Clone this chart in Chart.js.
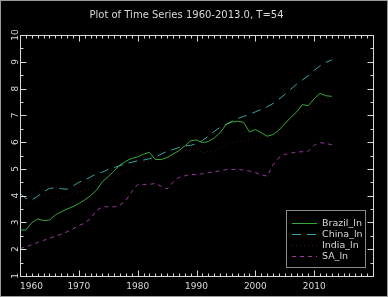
<!DOCTYPE html>
<html>
<head>
<meta charset="utf-8">
<script src="https://cdn.jsdelivr.net/npm/chart.js@4.4.1/dist/chart.umd.min.js"></script>
<style>
  html, body { margin: 0; padding: 0; background: #000; }
  canvas { display: block; }
</style>
</head>
<body>
<canvas id="myChart" width="388" height="297"></canvas>
<script>
// data (log scale values)
let years = [1960, 1961, 1962, 1963, 1964, 1965, 1966, 1967, 1968, 1969,
             1970, 1971, 1972, 1973, 1974, 1975, 1976, 1977, 1978, 1979,
             1980, 1981, 1982, 1983, 1984, 1985, 1986, 1987, 1988, 1989,
             1990, 1991, 1992, 1993, 1994, 1995, 1996, 1997, 1998, 1999,
             2000, 2001, 2002, 2003, 2004, 2005, 2006, 2007, 2008, 2009,
             2010, 2011, 2012, 2013];

let brazil = [2.72, 2.72, 2.99, 3.13, 3.07, 3.09, 3.28, 3.40, 3.50, 3.59,
              3.71, 3.84, 4.00, 4.21, 4.52, 4.71, 4.93, 5.14, 5.29, 5.39,
              5.45, 5.55, 5.62, 5.35, 5.35, 5.42, 5.55, 5.68, 5.85, 6.05,
              6.08, 5.98, 6.02, 6.15, 6.35, 6.65, 6.75, 6.78, 6.74, 6.38,
              6.47, 6.35, 6.22, 6.28, 6.45, 6.68, 6.92, 7.12, 7.40, 7.36,
              7.62, 7.82, 7.73, 7.71];

let china = [4.09, 3.90, 3.84, 3.98, 4.14, 4.27, 4.30, 4.26, 4.24, 4.36,
             4.50, 4.58, 4.70, 4.82, 4.88, 4.98, 5.05, 5.12, 5.20, 5.25,
             5.30, 5.33, 5.38, 5.45, 5.55, 5.66, 5.72, 5.80, 5.85, 5.88,
             5.94, 6.06, 6.22, 6.40, 6.55, 6.66, 6.78, 6.88, 6.96, 7.04,
             7.13, 7.22, 7.32, 7.44, 7.60, 7.78, 7.97, 8.16, 8.32, 8.48,
             8.68, 8.85, 8.98, 9.07];

let india = [3.61, 3.67, 3.74, 3.88, 4.03, 4.09, 3.83, 3.91, 3.97, 4.07,
             4.13, 4.21, 4.27, 4.45, 4.60, 4.59, 4.63, 4.80, 4.92, 5.03,
             5.23, 5.27, 5.30, 5.39, 5.36, 5.45, 5.52, 5.63, 5.69, 5.69,
             5.77, 5.60, 5.66, 5.63, 5.79, 5.89, 5.97, 6.03, 6.04, 6.13,
             6.15, 6.18, 6.24, 6.41, 6.56, 6.71, 6.85, 7.10, 7.09, 7.20,
             7.42, 7.51, 7.51, 7.53];

let sa = [2.03, 2.08, 2.17, 2.25, 2.33, 2.41, 2.48, 2.56, 2.65, 2.76,
          2.88, 2.98, 3.15, 3.45, 3.58, 3.59, 3.58, 3.65, 3.82, 4.15,
          4.42, 4.42, 4.42, 4.46, 4.35, 4.25, 4.50, 4.68, 4.74, 4.80,
          4.78, 4.82, 4.86, 4.89, 4.93, 4.97, 4.98, 4.98, 4.96, 4.92,
          4.86, 4.78, 4.73, 5.15, 5.42, 5.54, 5.58, 5.63, 5.64, 5.66,
          5.88, 5.98, 5.95, 5.90];

let seriesNames = ['Brazil_ln', 'China_ln', 'India_ln', 'SA_ln'];
let xTicks = [1960, 1970, 1980, 1990, 2000, 2010, 2020];
let yTicks = [1, 2, 3, 4, 5, 6, 7, 8, 9, 10];

const fg = '#d8d8d8';

function pts(vals)
{
    return years.map((yr, i) => ({ x: yr, y: vals[i] }));
}

// IDL style box with inward ticks on all four sides
const boxTicks = {
    id: 'boxTicks',
    afterDraw(chart)
    {
        let ctx = chart.ctx;
        let a = chart.chartArea;
        let xs = chart.scales.x;
        let ys = chart.scales.y;
        ctx.save();
        ctx.strokeStyle = '#9a9a9a';
        ctx.lineWidth = 1;
        ctx.strokeRect(0.5, 0.5, chart.width - 1, chart.height - 1);

        ctx.strokeStyle = fg;
        let l = Math.round(a.left) + 0.5, r = Math.round(a.right) + 0.5;
        let t = Math.round(a.top) + 0.5, b = Math.round(a.bottom) + 0.5;
        ctx.strokeRect(l, t, r - l, b - t);

        ctx.beginPath();
        for (let yr = xs.min; yr <= xs.max; yr++)
        {
            let px = Math.round(xs.getPixelForValue(yr)) + 0.5;
            let len = xTicks.includes(yr) ? 6 : 3;
            ctx.moveTo(px, b); ctx.lineTo(px, b - len);
            ctx.moveTo(px, t); ctx.lineTo(px, t + len);
        }
        for (let v = ys.min; v <= ys.max; v += 0.5)
        {
            let py = Math.round(ys.getPixelForValue(v)) + 0.5;
            let len = Number.isInteger(v) ? 6 : 3;
            ctx.moveTo(l, py); ctx.lineTo(l + len, py);
            ctx.moveTo(r, py); ctx.lineTo(r - len, py);
        }
        ctx.stroke();
        ctx.restore();
    }
};

// legend box in the lower right corner of the plot
const boxLegend = {
    id: 'boxLegend',
    afterDraw(chart)
    {
        let ctx = chart.ctx;
        let a = chart.chartArea;
        let bx = a.right - 87, by = a.bottom - 66, bw = 79, bh = 57;
        ctx.save();
        ctx.strokeStyle = '#8a8a8a';
        ctx.lineWidth = 1;
        ctx.strokeRect(Math.round(bx) + 0.5, Math.round(by) + 0.5, bw, bh);
        ctx.font = '9.5px "DejaVu Sans"';
        ctx.textBaseline = 'middle';
        ctx.fillStyle = fg;
        chart.data.datasets.forEach((ds, i) => {
            let y = Math.round(by + 12.5 + i * 11) + 0.5;
            ctx.beginPath();
            ctx.strokeStyle = ds.borderColor;
            ctx.setLineDash(ds.borderDash || []);
            ctx.moveTo(bx + 6, y);
            ctx.lineTo(bx + 31, y);
            ctx.stroke();
            ctx.fillText(ds.label, bx + 36, y);
        });
        ctx.restore();
    }
};

new Chart(document.getElementById('myChart'),
    {
        type: 'line',
        data:
        {
            datasets: [
                { label: seriesNames[0], data: pts(brazil), borderColor: '#36a836', borderDash: [] },
                { label: seriesNames[1], data: pts(china), borderColor: '#38a4a4', borderDash: [9, 6] },
                { label: seriesNames[2], data: pts(india), borderColor: '#471414', borderDash: [1, 3] },
                { label: seriesNames[3], data: pts(sa), borderColor: '#9a3a9e', borderDash: [4, 4] }
            ]
        },
        options:
        {
            responsive: false,
            animation: false,
            devicePixelRatio: 1,
            layout: { padding: { left: 0, right: 15, top: 0, bottom: 0 } },
            elements: {
                point: { radius: 0 },
                line: { borderWidth: 1, tension: 0 }
            },
            plugins: {
                legend: { display: false },
                tooltip: { enabled: false },
                title: {
                    display: true,
                    text: 'Plot of Time Series 1960-2013.0, T=54',
                    color: fg,
                    font: { family: 'DejaVu Sans', size: 10, weight: 'normal' },
                    padding: { top: 9, bottom: 14 }
                }
            },
            scales: {
                x: {
                    type: 'linear',
                    min: xTicks[0],
                    max: xTicks[xTicks.length - 1],
                    grid: { display: false },
                    border: { display: false },
                    afterBuildTicks: (s) => { s.ticks = xTicks.map(v => ({ value: v })); },
                    afterFit: (s) => { s.height = 21; },
                    ticks: {
                        color: fg,
                        align: 'inner',
                        padding: -3,
                        maxRotation: 0,
                        font: { family: 'DejaVu Sans', size: 9 },
                        callback: (v) => v === 2020 ? '' : String(v)
                    }
                },
                y: {
                    min: yTicks[0],
                    max: yTicks[yTicks.length - 1],
                    grid: { display: false },
                    border: { display: false },
                    afterBuildTicks: (s) => { s.ticks = yTicks.map(v => ({ value: v })); },
                    afterFit: (s) => { s.width = 20; },
                    ticks: {
                        color: fg,
                        minRotation: 90,
                        maxRotation: 90,
                        crossAlign: 'center',
                        padding: -9,
                        font: { family: 'DejaVu Sans', size: 9 },
                        callback: (v) => String(v)
                    }
                }
            }
        },
        plugins: [boxTicks, boxLegend]
    }
);
</script>
</body>
</html>
